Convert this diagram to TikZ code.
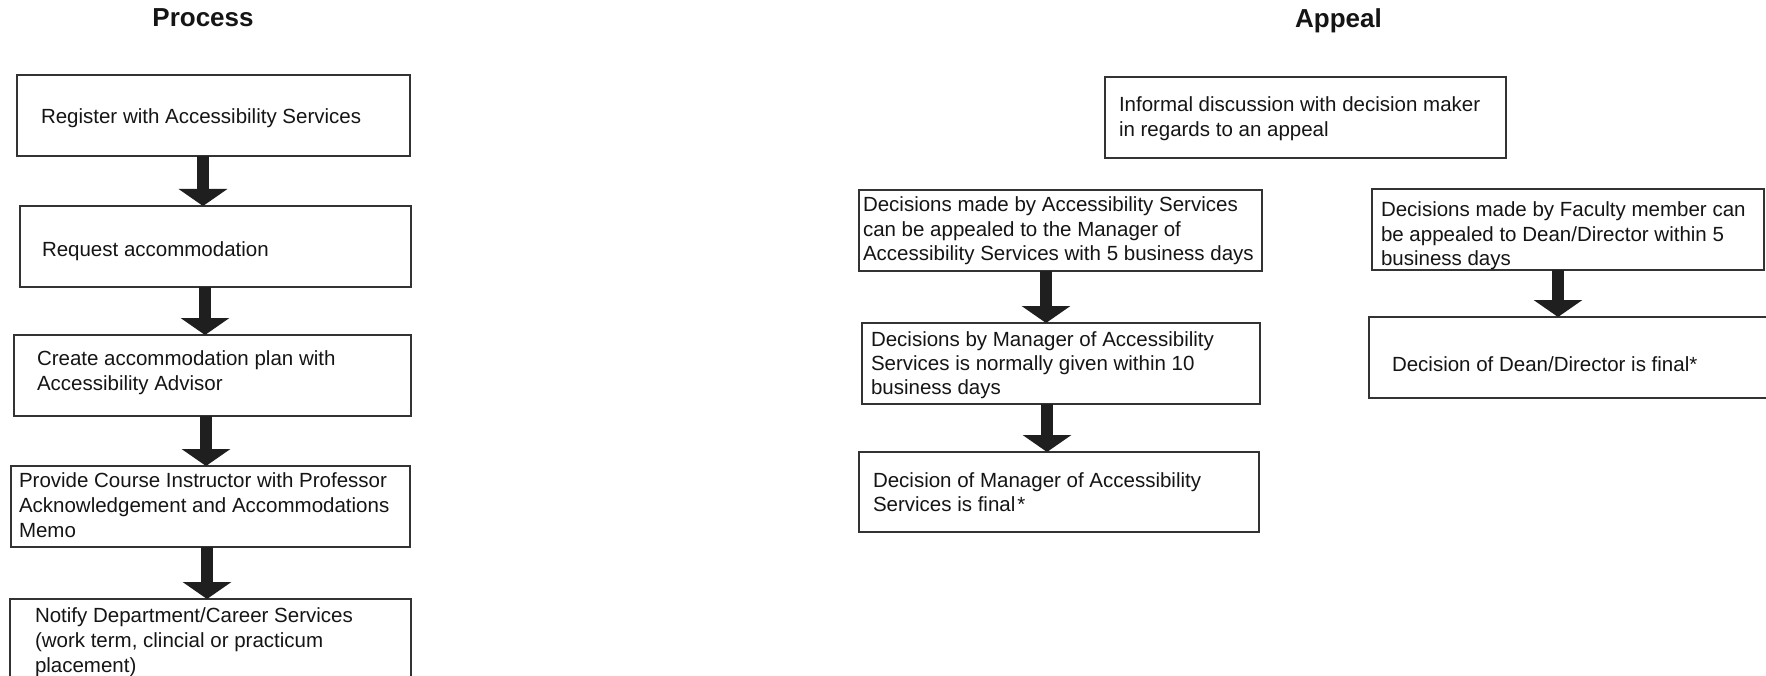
\documentclass[tikz,border=0pt]{standalone}
\usepackage{fontspec}
\setmainfont{Liberation Sans}
\usetikzlibrary{arrows.meta}
\definecolor{boxline}{HTML}{333333}
\definecolor{txtcol}{HTML}{151515}
\begin{document}
\begin{tikzpicture}[x=1pt,y=-1pt,
  box/.style={draw=boxline,line width=2pt,inner sep=0pt,outer sep=0pt,anchor=north west},
  txt/.style={anchor=base west,inner sep=0pt,outer sep=0pt,text=txtcol,font=\fontsize{20.5}{25}\selectfont},
  ttl/.style={anchor=base,inner sep=0pt,text=txtcol,font=\fontsize{26}{30}\selectfont\bfseries},
  bigarr/.style={draw=black!88,line width=12pt,-{Triangle[width=48pt,length=17pt]}}]
\useasboundingbox (0,0) rectangle (1766,676);
\fill[white] (0,0) rectangle (1766,676);
% titles
\node[ttl] (tproc) at (203,27) {Process};
\node[ttl] (tapp) at (1338.5,28) {Appeal};
% process boxes
\node[box,minimum width=393,minimum height=81] (p1) at (17,75) {};
\node[box,minimum width=391,minimum height=81] (p2) at (20,206) {};
\node[box,minimum width=397,minimum height=81] (p3) at (14,335) {};
\node[box,minimum width=399,minimum height=81] (p4) at (11,466) {};
\node[box,minimum width=401,minimum height=81] (p5) at (10,599) {};
\node[txt] (p1t) at (41,124) {\parbox[t]{380pt}{Register with Accessibility Services}};
\node[txt] (p2t) at (42,257) {\parbox[t]{380pt}{Request accommodation}};
\node[txt] (p3t) at (37,365) {\parbox[t]{380pt}{Create accommodation plan with\\Accessibility Advisor}};
\node[txt] (p4t) at (19,487) {\parbox[t]{395pt}{Provide Course Instructor with Professor\\Acknowledgement and Accommodations\\Memo}};
\node[txt] (p5t) at (35,622) {\parbox[t]{380pt}{Notify Department/Career Services\\(work term, clincial or practicum\\placement)}};
% process arrows
\draw[bigarr] (p1.south -| 203,0) -- (p2.north -| 203,0);
\draw[bigarr] (p2.south -| 205,0) -- (p3.north -| 205,0);
\draw[bigarr] (p3.south -| 206,0) -- (p4.north -| 206,0);
\draw[bigarr] (p4.south -| 207,0) -- (p5.north -| 207,0);
% appeal boxes
\node[box,minimum width=401,minimum height=81] (inf) at (1105,77) {};
\node[box,minimum width=403,minimum height=81] (a1) at (859,190) {};
\node[box,minimum width=398,minimum height=81] (a2) at (862,323) {};
\node[box,minimum width=400,minimum height=80] (a3) at (859,452) {};
\node[box,minimum width=392,minimum height=81] (b1) at (1372,189) {};
\node[box,minimum width=401,minimum height=81] (b2) at (1369,317) {};
\node[txt] (inft) at (1119,112) {\parbox[t]{390pt}{Informal discussion with decision maker\\in regards to an appeal}};
\node[txt,font=\fontsize{20.5}{24.5}\selectfont] (a1t) at (863,212) {\parbox[t]{400pt}{Decisions made by Accessibility Services\\can be appealed to the Manager of\\Accessibility Services with 5 business days}};
\node[txt,font=\fontsize{20.5}{24.2}\selectfont] (a2t) at (871,346) {\parbox[t]{390pt}{Decisions by Manager of Accessibility\\Services is normally given within 10\\business days}};
\node[txt,font=\fontsize{20.5}{24.5}\selectfont] (a3t) at (873,487) {\parbox[t]{380pt}{Decision of Manager of Accessibility\\Services is final\kern2pt*}};
\node[txt,font=\fontsize{20.5}{24.2}\selectfont] (b1t) at (1381,217) {\parbox[t]{385pt}{Decisions made by Faculty member can\\be appealed to Dean/Director within 5\\business days}};
\node[txt] (b2t) at (1392,371) {\parbox[t]{370pt}{Decision of Dean/Director is final*}};
% appeal arrows
\draw[bigarr] (a1.south -| 1046,0) -- (a2.north -| 1046,0);
\draw[bigarr] (a2.south -| 1047,0) -- (a3.north -| 1047,0);
\draw[bigarr] (b1.south -| 1558,0) -- (b2.north -| 1558,0);
\end{tikzpicture}
\end{document}
